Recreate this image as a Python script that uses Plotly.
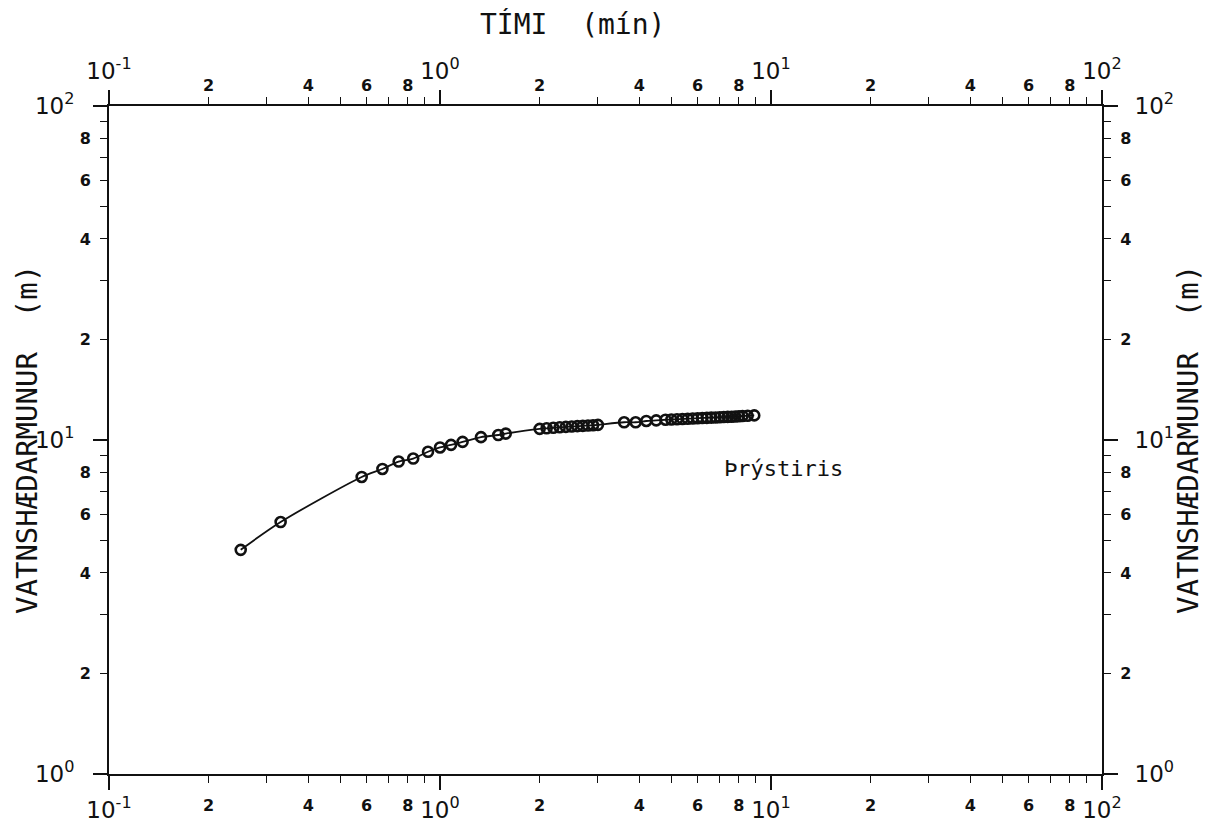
import math
import plotly.graph_objects as go

# ---- data ----
time_min = [0.25, 0.33, 0.58, 0.67, 0.75, 0.83, 0.92, 1.0, 1.08, 1.17, 1.33, 1.5, 1.58,
            2.0, 2.1, 2.2, 2.3, 2.4, 2.5, 2.6, 2.7, 2.8, 2.9, 3.0,
            3.6, 3.9, 4.2, 4.5,
            4.8, 5.0, 5.2, 5.4, 5.6, 5.8, 6.0, 6.2, 6.4, 6.6, 6.8, 7.0, 7.2, 7.4,
            7.6, 7.8, 8.0, 8.2, 8.5, 8.9]
head_m = [4.69, 5.68, 7.75, 8.19, 8.62, 8.80, 9.22, 9.50, 9.67, 9.87, 10.2, 10.35, 10.45,
          10.80, 10.84, 10.88, 10.92, 10.95, 10.98, 11.0, 11.02, 11.05, 11.07, 11.10,
          11.30, 11.30, 11.40, 11.45,
          11.50, 11.52, 11.54, 11.56, 11.58, 11.60, 11.62, 11.64, 11.65, 11.67, 11.68, 11.70,
          11.72, 11.73, 11.74, 11.76, 11.78, 11.80, 11.82, 11.85]

x_decades = [0.1, 1, 10, 100]
x_decade_text = ["10<sup>-1</sup>", "10<sup>0</sup>", "10<sup>1</sup>", "10<sup>2</sup>"]
x_digits = [0.2, 0.4, 0.6, 0.8, 2, 4, 6, 8, 20, 40, 60, 80]
x_digit_text = ["2", "4", "6", "8"] * 3
x_minor = [0.3, 0.5, 0.7, 0.9, 3, 5, 7, 9, 30, 50, 70, 90]

y_decades = [1, 10, 100]
y_decade_text = ["10<sup>0</sup>", "10<sup>1</sup>", "10<sup>2</sup>"]
y_digits = [2, 4, 6, 8, 20, 40, 60, 80]
y_digit_text = ["2", "4", "6", "8"] * 2
y_minor = [3, 5, 7, 9, 30, 50, 70, 90]

x_title = "TÍMI  (mín)"
y_title = "VATNSHÆDARMUNUR  (m)"
curve_label = "Þrýstiris"
label_x, label_y = 10.9, 8.2

XR = [-1, 2]
YR = [0, 2]
BLACK = "#111111"
DEC_FONT = dict(family="DejaVu Sans", size=23, color=BLACK)
DIG_FONT = dict(family="DejaVu Sans", size=16, color=BLACK, weight="bold")
MONO = "DejaVu Sans Mono"

fig = go.Figure()
fig.add_trace(go.Scatter(
    x=time_min, y=head_m, mode="lines+markers",
    line=dict(color=BLACK, width=1.8, shape="spline", smoothing=0.8),
    marker=dict(symbol="circle-open", size=10, color=BLACK, line=dict(width=2.6)),
    showlegend=False, hoverinfo="skip"))

common = dict(type="log", showgrid=False, zeroline=False, fixedrange=True, automargin=False)

def dec_axis(side, rng, vals, text, ticklen, standoff, anchor, overlay=None):
    d = dict(common, range=rng, side=side, tickmode="array", tickvals=vals, ticktext=text,
             ticks="outside", ticklen=ticklen, tickwidth=1.6, tickcolor=BLACK,
             tickfont=DEC_FONT, showline=True, linewidth=1.8, linecolor=BLACK,
             ticklabelstandoff=standoff, anchor=anchor)
    if overlay:
        d["overlaying"] = overlay
    return d

def dig_axis(side, rng, vals, text, minor_vals, standoff, anchor, overlay):
    return dict(common, range=rng, side=side, tickmode="array", tickvals=vals, ticktext=text,
                ticks="outside", ticklen=8, tickwidth=1.4, tickcolor=BLACK,
                tickfont=DIG_FONT, showline=False, ticklabelstandoff=standoff,
                anchor=anchor, overlaying=overlay,
                minor=dict(tickmode="array", tickvals=minor_vals, ticks="outside",
                           ticklen=8, tickwidth=1.4, tickcolor=BLACK, showgrid=False))

fig.update_layout(
    width=1198, height=814,
    margin=dict(l=101, r=104, t=98, b=48, autoexpand=False),
    paper_bgcolor="white", plot_bgcolor="white",
    xaxis=dec_axis("bottom", XR, x_decades, x_decade_text, 14, 0, "y"),
    xaxis2=dig_axis("bottom", XR, x_digits, x_digit_text, x_minor, 9, "y", "x"),
    xaxis3=dec_axis("top", XR, x_decades, x_decade_text, 14, 2, "y", "x"),
    xaxis4=dig_axis("top", XR, x_digits, x_digit_text, x_minor, 0, "y", "x"),
    yaxis=dec_axis("left", YR, y_decades, y_decade_text, 14, 14, "x"),
    yaxis2=dig_axis("left", YR, y_digits, y_digit_text, y_minor, 6, "x", "y"),
    yaxis3=dec_axis("right", YR, y_decades, y_decade_text, 14, 12, "x", "y"),
    yaxis4=dig_axis("right", YR, y_digits, y_digit_text, y_minor, 6, "x", "y"),
    showlegend=False,
)

# invisible traces to activate overlay axes
for xa, ya in [("x2", "y"), ("x3", "y"), ("x4", "y"), ("x", "y2"), ("x", "y3"), ("x", "y4")]:
    fig.add_trace(go.Scatter(x=[time_min[0]], y=[head_m[0]], xaxis=xa, yaxis=ya,
                             mode="markers", marker=dict(opacity=0), showlegend=False,
                             hoverinfo="skip"))

fig.add_annotation(x=0.5, y=1, xref="paper", yref="paper", xshift=-33, yshift=82,
                   xanchor="center", yanchor="middle",
                   text=x_title, showarrow=False,
                   font=dict(family=MONO, size=28, color=BLACK))
fig.add_annotation(x=0, y=0.5, xref="paper", yref="paper", xshift=-82,
                   xanchor="center", yanchor="middle",
                   text=y_title, textangle=-90, showarrow=False,
                   font=dict(family=MONO, size=29, color=BLACK))
fig.add_annotation(x=1, y=0.5, xref="paper", yref="paper", xshift=86,
                   xanchor="center", yanchor="middle",
                   text=y_title, textangle=-90, showarrow=False,
                   font=dict(family=MONO, size=29, color=BLACK))
fig.add_annotation(x=math.log10(label_x), y=math.log10(label_y), xref="x", yref="y",
                   text=curve_label, showarrow=False,
                   font=dict(family=MONO, size=22, color=BLACK))

fig.write_html("out.html")
